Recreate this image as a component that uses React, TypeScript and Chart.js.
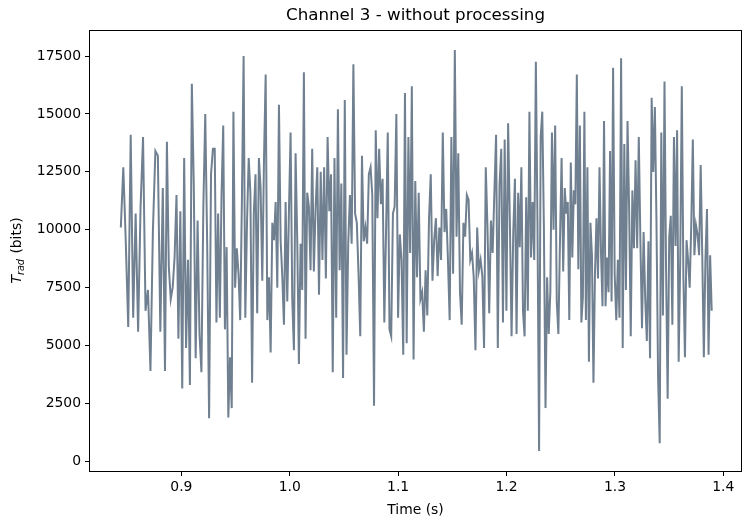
import React, { useEffect, useRef } from "react";
import { Chart, registerables } from "chart.js";

Chart.register(...registerables);

// Time boundaries (s) of consecutive stretches of the signal
const segmentBounds = [0.843, 0.884, 0.93, 0.977, 1.023, 1.069, 1.115, 1.161, 1.207, 1.253, 1.299, 1.345, 1.39];

// T_rad values (bits) per stretch
const seg01 = [10100, 12700, 9500, 5800, 14100, 6200, 10700, 5600, 11000, 14000, 6500, 7400, 3900, 10000, 13400, 13200, 5600, 11800];
const seg02 = [3900, 13800, 8400, 7000, 7500, 8800, 11500, 5300, 10800, 3150, 13100, 4900, 8700, 3300, 16300, 12000, 4450, 10400, 5500, 3850, 11000, 15000, 9400, 1860, 12400, 13500];
const seg03 = [13500, 6000, 10700, 6200, 11500, 14500, 5700, 9250, 1900, 4500, 2300, 15100, 7500, 9200, 8100, 6100, 11300, 17500, 6200, 10300, 13100, 11600, 3400, 10700, 12400, 6400, 13100, 11800, 7800, 13000];
const seg04 = [16700, 6100, 7950, 4700, 10300, 9550, 11200, 7500, 15400, 9550, 8000, 5900, 11200, 6900, 10800, 14200, 7000, 4800, 13300, 9550, 4200, 9400, 7400, 16800, 5300, 11600, 11000, 8250, 13500, 8200];
const seg05 = [10900, 12700, 7200, 12500, 8700, 12700, 7900, 14000, 10800, 12400, 3850, 13100, 6200, 15200, 8250, 12000, 3600, 15600, 4600, 9400, 11500, 9400, 17150, 10700, 10300, 8100, 5400, 13200, 9500];
const seg06 = [10100, 9400, 12400, 12700, 11500, 2400, 14300, 10500, 13500, 11100, 12200, 6000, 9900, 14200, 5700, 5400, 10700, 11000, 15000, 6200, 9800, 8700, 4600, 15900, 5100, 14000, 9000, 16200, 4400];
const seg07 = [12100, 7950, 11600, 7000, 7300, 5600, 8250, 6300, 10500, 12400, 7800, 9550, 10500, 8000, 10100, 8700, 14200, 9900, 10900, 8700, 6100, 14000, 8100, 17760, 9700, 13300, 7300, 5900, 10300];
const seg08 = [9700, 11500, 11300, 8700, 9000, 7950, 4800, 10100, 8250, 8700, 8000, 4900, 12700, 10100, 6400, 10400, 9000, 11600, 14100, 4900, 11900, 13500, 6000, 13900, 6500, 14600, 10400, 5400, 9900];
const seg09 = [12200, 5500, 11600, 9250, 12700, 6500, 5400, 11400, 6500, 15100, 8800, 11200, 8700, 17250, 10400, 450, 14000, 15100, 10100, 2300, 7950, 5500, 7300, 14200, 10000, 14500, 6900, 5500, 9500, 13100, 8200];
const seg10 = [11800, 10700, 11200, 6100, 12900, 8800, 11700, 11100, 16700, 8300, 14500, 6000, 7100, 15100, 6100, 12700, 4300, 10300, 8900, 3400, 8100, 10500, 7900, 12700, 9000, 6700, 14700, 6700, 8800, 7300, 13400, 6900, 17000];
const seg11 = [8100, 6100, 8700, 6200, 17400, 4900, 13700, 7400, 14700, 10900, 5400, 11700, 9200, 13000, 9200, 14000, 9500, 5750, 9900, 7000, 5200, 9500, 4450, 15700, 12500, 15300, 10300, 3600, 780, 14200, 6300];
const seg12 = [16400, 8250, 2700, 9700, 10600, 5900, 14000, 9300, 14300, 4300, 8700, 16200, 8000, 4500, 9550, 8700, 7500, 10200, 13900, 8900, 10200, 9800, 8900, 12800, 8900, 4500, 8700, 10900, 4600, 8900, 6500];

const segments = [seg01, seg02, seg03, seg04, seg05, seg06, seg07, seg08, seg09, seg10, seg11, seg12];

const xTicks = [0.9, 1.0, 1.1, 1.2, 1.3, 1.4];
const xTickLabels = ["0.9", "1.0", "1.1", "1.2", "1.3", "1.4"];
const yTicks = [0, 2500, 5000, 7500, 10000, 12500, 15000, 17500];
const yTickLabels = ["0", "2500", "5000", "7500", "10000", "12500", "15000", "17500"];

const titleText = "Channel 3 - without processing";
const xLabelText = "Time (s)";

function buildPoints() {
  const pts: { x: number; y: number }[] = [];
  segments.forEach((vals, k) => {
    const a = segmentBounds[k];
    const b = segmentBounds[k + 1];
    const step = (b - a) / vals.length;
    vals.forEach((v, i) => pts.push({ x: a + (i + 0.5) * step, y: v }));
  });
  return pts;
}

const FONT = '"DejaVu Sans", sans-serif';

const decorations = {
  id: "decorations",
  afterDraw(chart: any) {
    const { ctx, chartArea } = chart;
    const { left, right, top, bottom } = chartArea;
    ctx.save();
    ctx.strokeStyle = "#000";
    ctx.lineWidth = 1;
    ctx.strokeRect(Math.round(left) - 0.5, Math.round(top) + 0.5, Math.round(right - left) + 1, Math.round(bottom - top));
    ctx.fillStyle = "#000";
    ctx.textAlign = "center";
    ctx.textBaseline = "middle";
    ctx.font = `16.7px ${FONT}`;
    ctx.fillText(titleText, (left + right) / 2, 16);
    ctx.font = `13.9px ${FONT}`;
    ctx.fillText(xLabelText, (left + right) / 2, 510);

    // y label: T_rad (bits)
    ctx.translate(16, (top + bottom) / 2);
    ctx.rotate(-Math.PI / 2);
    ctx.textAlign = "left";
    ctx.textBaseline = "alphabetic";
    const fT = `italic 13.9px ${FONT}`;
    const fSub = `italic 9.7px ${FONT}`;
    const fN = `13.9px ${FONT}`;
    ctx.font = fT;
    const wT = ctx.measureText("T").width;
    ctx.font = fSub;
    const wS = ctx.measureText("rad").width;
    ctx.font = fN;
    const wN = ctx.measureText(" (bits)").width;
    const total = wT + wS + wN + 1;
    let x = -total / 2;
    const base = 5;
    ctx.font = fT;
    ctx.fillText("T", x, base);
    x += wT;
    ctx.font = fSub;
    ctx.fillText("rad", x, base + 3);
    x += wS + 1;
    ctx.font = fN;
    ctx.fillText(" (bits)", x, base);
    ctx.restore();
  },
};

export default function App() {
  const ref = useRef<HTMLCanvasElement | null>(null);

  useEffect(() => {
    document.body.style.margin = "0";
    const canvas = ref.current;
    if (!canvas) return;
    const chart = new Chart(canvas, {
      type: "line",
      data: {
        datasets: [
          {
            data: buildPoints(),
            borderColor: "#708090",
            borderWidth: 2,
            pointRadius: 0,
            tension: 0,
            fill: false,
          },
        ],
      },
      options: {
        responsive: false,
        animation: false,
        devicePixelRatio: 1,
        layout: { padding: { left: 0, right: 2, top: 30, bottom: 0 } },
        plugins: { legend: { display: false }, tooltip: { enabled: false }, title: { display: false } },
        scales: {
          x: {
            type: "linear",
            min: 0.8157,
            max: 1.4163,
            afterBuildTicks: (scale: any) => {
              scale.ticks = xTicks.map((v) => ({ value: v }));
            },
            afterFit: (scale: any) => {
              scale.height = 52;
            },
            ticks: {
              autoSkip: false,
              maxRotation: 0,
              padding: 3,
              color: "#000",
              font: { family: "DejaVu Sans", size: 13.9 },
              callback: (v: any) => {
                const i = xTicks.findIndex((t) => Math.abs(t - Number(v)) < 1e-9);
                return i >= 0 ? xTickLabels[i] : "";
              },
            },
            grid: { display: true, drawOnChartArea: false, drawTicks: true, tickLength: 5, color: "#000", lineWidth: 1 },
            border: { display: false },
          },
          y: {
            type: "linear",
            min: -415,
            max: 18625,
            afterBuildTicks: (scale: any) => {
              scale.ticks = yTicks.map((v) => ({ value: v }));
            },
            afterFit: (scale: any) => {
              scale.width = 90;
            },
            ticks: {
              autoSkip: false,
              padding: 4,
              color: "#000",
              font: { family: "DejaVu Sans", size: 13.9 },
              callback: (v: any) => {
                const i = yTicks.findIndex((t) => Math.abs(t - Number(v)) < 1e-9);
                return i >= 0 ? yTickLabels[i] : "";
              },
            },
            grid: { display: true, drawOnChartArea: false, drawTicks: true, tickLength: 5, color: "#000", lineWidth: 1 },
            border: { display: false },
          },
        },
      },
      plugins: [decorations],
    });
    return () => chart.destroy();
  }, []);

  return (
    <div style={{ position: "fixed", left: 0, top: 0, width: 743, height: 523, background: "#fff" }}>
      <canvas ref={ref} width={743} height={523} style={{ display: "block", width: 743, height: 523 }} />
    </div>
  );
}
